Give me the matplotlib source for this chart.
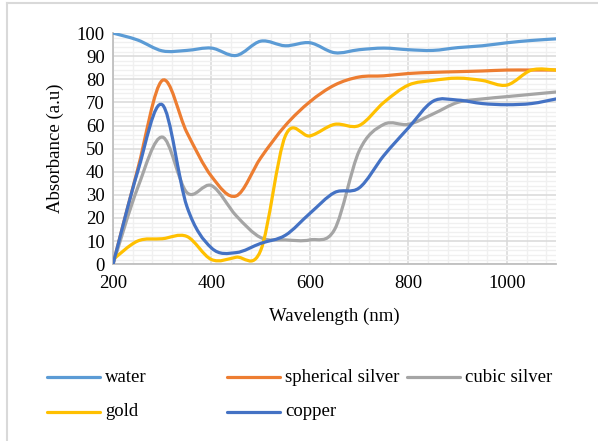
import numpy as np
import matplotlib
matplotlib.use("Agg")
import matplotlib.pyplot as plt
from matplotlib.path import Path
from matplotlib.patches import PathPatch
from matplotlib.lines import Line2D
from matplotlib.ticker import MultipleLocator

# Data
wavelength = [200, 250, 300, 350, 400, 450, 500, 550, 600, 650,
              700, 750, 800, 850, 900, 950, 1000, 1050, 1100]
water = [100, 97, 92.3, 92.5, 93.5, 90.3, 96.5, 94.5, 95.8, 91.5,
         92.8, 93.5, 92.8, 92.5, 93.7, 94.5, 95.8, 96.8, 97.5]
spherical_silver = [0, 41, 79.5, 57, 38, 29.5, 46, 60, 70.3, 77.5,
                    81, 81.5, 82.5, 83, 83.3, 83.6, 84, 84, 84]
cubic_silver = [0, 33, 55, 31, 34, 21, 11.5, 10.5, 10.5, 15,
                49, 60.5, 60.5, 65, 70, 71.5, 72.5, 73.5, 74.5]
gold = [2, 10, 11, 12, 2, 3, 6, 55.5, 55.5, 60.5,
        60, 70, 77.5, 79.5, 80.5, 79.5, 77.5, 84, 84]
copper = [0, 40, 69, 25, 7, 5, 9, 12.5, 22, 31,
          33, 47, 59, 70.5, 71, 69.5, 69, 69.5, 71.5]

names = ["water", "spherical silver", "cubic silver", "gold", "copper"]
series = [water, spherical_silver, cubic_silver, gold, copper]
colors = ["#5B9BD5", "#ED7D31", "#A5A5A5", "#FFC000", "#4472C4"]

plt.rcParams["font.family"] = ["Liberation Serif", "DejaVu Serif"]
plt.rcParams["font.size"] = 13.5


def smooth_path(x, y):
    # Excel-style smoothed line: cubic bezier through each data point
    p = np.column_stack([x, y]).astype(float)
    p = np.vstack([p[0], p, p[-1]])
    verts = [p[1]]
    codes = [Path.MOVETO]
    for i in range(1, len(p) - 2):
        c1 = p[i] + (p[i + 1] - p[i - 1]) / 6
        c2 = p[i + 1] - (p[i + 2] - p[i]) / 6
        verts += [c1, c2, p[i + 1]]
        codes += [Path.CURVE4] * 3
    return Path(verts, codes)


fig = plt.figure(figsize=(5.98, 4.41), dpi=100)
ax = fig.add_axes([0.189, 0.401, 0.741, 0.524])

for vals, col in zip(series, colors):
    ax.add_patch(PathPatch(smooth_path(wavelength, vals), facecolor="none",
                           edgecolor=col, lw=2.3, capstyle="round", zorder=3))

ax.set_xlim(200, 1100)
ax.set_ylim(0, 100)
ax.xaxis.set_major_locator(MultipleLocator(200))
ax.xaxis.set_minor_locator(MultipleLocator(40))
ax.yaxis.set_major_locator(MultipleLocator(10))
ax.yaxis.set_minor_locator(MultipleLocator(2))
ax.grid(which="major", color="#D9D9D9", lw=1.1)
ax.grid(which="minor", color="#F0F0F0", lw=1.0)
ax.set_axisbelow(True)
ax.tick_params(which="both", length=0)
ax.tick_params(axis="y", pad=6)
ax.tick_params(axis="x", pad=8)
for s in ["top", "right"]:
    ax.spines[s].set_visible(False)
for s in ["left", "bottom"]:
    ax.spines[s].set_color("#BFBFBF")
    ax.spines[s].set_linewidth(1.3)

ax.set_xlabel("Wavelength (nm)", labelpad=11)
ax.set_ylabel("Absorbance (a.u)", labelpad=9)

# Legend laid out like the Excel one: three fixed-width columns
W, H = 598, 441
slots = [(47, 377), (227, 377), (407, 377), (47, 412), (227, 412)]
for (px, py), name, col in zip(slots, names, colors):
    fig.add_artist(Line2D([px / W, (px + 53) / W], [1 - py / H, 1 - py / H],
                          color=col, lw=2.3, solid_capstyle="round"))
    fig.text((px + 58) / W, 1 - py / H, name, va="center", ha="left")

# chart frame (only left and top edges visible)
fig.add_artist(Line2D([6.5 / W, 6.5 / W], [0, 1 - 3 / H], color="#D9D9D9", lw=1.5))
fig.add_artist(Line2D([6.5 / W, 1], [1 - 3 / H, 1 - 3 / H], color="#D9D9D9", lw=1.5))

fig.savefig("out.png", dpi=100)
